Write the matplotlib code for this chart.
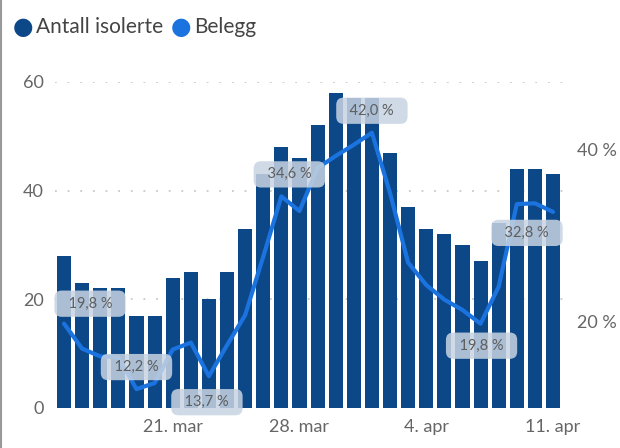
import matplotlib.pyplot as plt
import numpy as np

plt.rcParams['font.family'] = ['Lato', 'DejaVu Sans']

# data
dates = ['15. mar', '16. mar', '17. mar', '18. mar', '19. mar', '20. mar', '21. mar',
         '22. mar', '23. mar', '24. mar', '25. mar', '26. mar', '27. mar', '28. mar',
         '29. mar', '30. mar', '31. mar', '1. apr', '2. apr', '3. apr', '4. apr',
         '5. apr', '6. apr', '7. apr', '8. apr', '9. apr', '10. apr', '11. apr']
isolerte = [28, 23, 22, 22, 17, 17, 24, 25, 20, 25, 33, 43, 48, 46,
            52, 58, 57, 57, 47, 37, 33, 32, 30, 27, 34, 44, 44, 43]
belegg = [19.8, 16.9, 16.0, 15.9, 12.2, 12.9, 16.8, 17.6, 13.7, 17.3, 20.8, 27.6, 34.6, 32.9,
          37.9, 39.3, 40.6, 42.0, 35.0, 26.9, 24.3, 22.6, 21.4, 19.8, 24.1, 33.7, 33.8, 32.8]
tick_dates = ['21. mar', '28. mar', '4. apr', '11. apr']
labelled = ['15. mar', '19. mar', '23. mar', '27. mar', '1. apr', '7. apr', '11. apr']

bar_col = '#0c4787'
line_col = '#1b73e0'
txt_col = '#666666'

fig = plt.figure(figsize=(6.2, 4.48), dpi=100)
ax = fig.add_axes([0.0887, 0.0893, 0.8193, 0.7277])
x = np.arange(len(dates))

for g in [20, 40, 60]:
    ax.axhline(g, color='#c8c8c8', lw=1.3, linestyle=(0, (1, 6)), zorder=0)
ax.bar(x, isolerte, width=0.78, color=bar_col, zorder=2)
ax.set_ylim(0, 60)
ax.set_xlim(-0.5, 27.55)
ax.set_yticks([0, 20, 40, 60])
ax.set_xticks([dates.index(d) for d in tick_dates])
ax.set_xticklabels(tick_dates)
ax.tick_params(length=0, labelsize=13, colors=txt_col, pad=8)
for s in ax.spines.values():
    s.set_visible(False)

ax2 = ax.twinx()
ax2.plot(x, belegg, color=line_col, lw=3, zorder=3, solid_joinstyle='round',
         solid_capstyle='round')
ax2.set_ylim(10, 47.9)
ax2.set_yticks([20, 40])
ax2.set_yticklabels(['20 %', '40 %'])
ax2.tick_params(length=0, labelsize=13, colors=txt_col, pad=10)
for s in ax2.spines.values():
    s.set_visible(False)

# label offsets in pixels (dx, dy)
offsets = {'15. mar': (26, 20), '19. mar': (0, 22), '23. mar': (-2, -26), '27. mar': (8, 22),
           '1. apr': (0, 22), '7. apr': (1, -22), '11. apr': (-26, -21)}
for d in labelled:
    i = dates.index(d)
    ax2.annotate('  ' + ('%.1f' % belegg[i]).replace('.', ',') + ' %  ', (i, belegg[i]),
                 xytext=offsets[d], textcoords='offset pixels', ha='center', va='center',
                 fontsize=10.5, color='#5e5e5e', zorder=5, annotation_clip=False,
                 bbox=dict(boxstyle='round,pad=0.42,rounding_size=0.5', fc='#c8d4e2',
                           ec='none', alpha=0.85))

# legend
ly = 1 - 27 / 448
fig.text(13 / 620, ly, '\u25cf', color=bar_col, fontsize=17, va='center', ha='left',
         family='DejaVu Sans')
fig.text(36 / 620, ly, 'Antall isolerte', color='#444444', fontsize=15, va='center')
fig.text(171 / 620, ly, '\u25cf', color=line_col, fontsize=17, va='center', ha='left',
         family='DejaVu Sans')
fig.text(194 / 620, ly, 'Belegg', color='#444444', fontsize=15, va='center')

fig.add_artist(plt.Line2D([0.002, 0.002], [0, 1], color='#999999', lw=1.5))

fig.savefig('out.png', dpi=100)
